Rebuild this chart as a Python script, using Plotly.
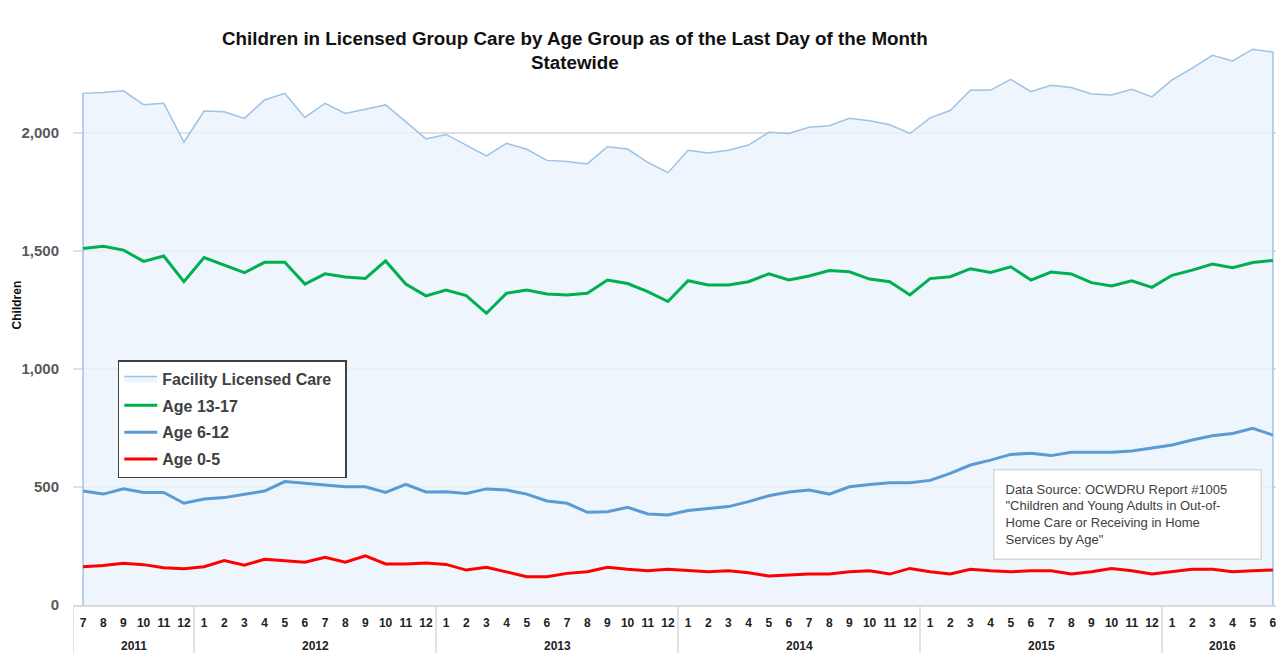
import plotly.graph_objects as go

years = ["2011"] * 6 + ["2012"] * 12 + ["2013"] * 12 + ["2014"] * 12 + ["2015"] * 12 + ["2016"] * 6
months = [str(m) for m in range(7, 13)] + [str(m) for m in range(1, 13)] * 4 + [str(m) for m in range(1, 7)]

facility = [2168, 2172, 2179, 2120, 2126, 1961,
            2093, 2090, 2062, 2140, 2168, 2066, 2126, 2083, 2100, 2119, 2048, 1975,
            1994, 1949, 1903, 1956, 1931, 1884, 1879, 1869, 1942, 1932, 1876, 1832,
            1927, 1915, 1927, 1949, 2003, 1998, 2024, 2031, 2062, 2052, 2035, 1998,
            2064, 2095, 2181, 2182, 2227, 2175, 2202, 2193, 2165, 2161, 2185, 2153,
            2225, 2275, 2329, 2305, 2355, 2343]

age_13_17 = [1511, 1520, 1504, 1456, 1479, 1370,
             1472, 1440, 1408, 1452, 1452, 1360, 1403, 1390, 1384, 1458, 1360, 1310,
             1335, 1311, 1236, 1321, 1335, 1318, 1314, 1321, 1377, 1362, 1328, 1286,
             1374, 1356, 1356, 1370, 1403, 1377, 1394, 1417, 1412, 1381, 1370, 1314,
             1383, 1391, 1425, 1409, 1433, 1377, 1411, 1403, 1366, 1352, 1374, 1346,
             1397, 1419, 1445, 1429, 1451, 1460]

age_6_12 = [483, 470, 492, 477, 477, 431,
            449, 455, 469, 483, 523, 516, 511, 501, 501, 477, 511, 479,
            480, 473, 492, 487, 470, 441, 431, 393, 395, 414, 386, 381,
            400, 407, 417, 438, 463, 479, 487, 470, 501, 511, 518, 518,
            528, 558, 593, 614, 638, 643, 633, 647, 647, 647, 653, 664,
            678, 699, 717, 727, 749, 720]

age_0_5 = [162, 167, 177, 171, 158, 154,
           162, 188, 169, 194, 188, 181, 202, 181, 208, 174, 174, 178,
           172, 148, 160, 139, 120, 120, 134, 141, 160, 151, 145, 151,
           145, 141, 145, 137, 123, 127, 131, 131, 141, 145, 131, 155,
           141, 131, 151, 145, 141, 145, 145, 131, 141, 155, 145, 131,
           141, 151, 151, 141, 145, 148]

y_ticks = [0, 500, 1000, 1500, 2000, 2500]
y_ticklabels = ["0", "500", "1,000", "1,500", "2,000", "2,500"]

title_text = ("<b>Children in Licensed Group Care by Age Group as of the Last Day of the Month</b><br>"
              "<b>Statewide</b>")
source_text = ("Data Source: OCWDRU Report #1005<br>"
               "\"Children and Young Adults in Out-of-<br>"
               "Home Care or Receiving in Home<br>"
               "Services by Age\"")

FONT = "Liberation Sans, Arial, sans-serif"

idx = list(range(len(months)))
# closed outline of the area series (down to zero at both ends)
poly_x = [idx[0]] + idx + [idx[-1]]
poly_y = [0] + facility + [0]

fig = go.Figure()
fig.add_trace(go.Scatter(
    x=poly_x, y=poly_y, name="<b>Facility Licensed Care</b>&nbsp;&nbsp;", mode="lines",
    fill="toself", fillcolor="rgba(234,242,251,0.8)", line=dict(color="#9DC3E6", width=1.5),
    legendgroup="a", hoverinfo="skip"))
fig.add_trace(go.Scatter(x=idx, y=age_13_17, name="<b>Age 13-17</b>", mode="lines",
                         line=dict(color="#00B050", width=3), legendgroup="b"))
fig.add_trace(go.Scatter(x=idx, y=age_6_12, name="<b>Age 6-12</b>", mode="lines",
                         line=dict(color="#5B9BD5", width=3), legendgroup="c"))
fig.add_trace(go.Scatter(x=idx, y=age_0_5, name="<b>Age 0-5</b>", mode="lines",
                         line=dict(color="#FF0000", width=3), legendgroup="d"))

annotations = [
    dict(text=title_text, xref="paper", yref="paper", x=0.415, y=0.94,
         xanchor="center", yanchor="middle", showarrow=False,
         font=dict(size=18.8, color="#111111")),
    dict(text=source_text, xref="paper", yref="paper", x=0.7605, y=0.2305,
         xanchor="left", yanchor="top", showarrow=False, align="left",
         bgcolor="white", bordercolor="#D9D9D9", borderwidth=1.5, borderpad=11,
         width=244, font=dict(size=13, color="#404040")),
    dict(text="<b>Children</b>", xref="paper", yref="paper", x=-0.0465, y=0.509,
         xanchor="center", yanchor="middle", textangle=-90, showarrow=False,
         font=dict(size=12, color="#111111")),
]
shapes = []
unique_years = []
for y in years:
    if y not in unique_years:
        unique_years.append(y)
for yr in unique_years:
    pos = [i for i, v in enumerate(years) if v == yr]
    annotations.append(dict(text="<b>" + yr + "</b>", xref="x", yref="paper",
                            x=(pos[0] + pos[-1]) / 2, y=-0.0695, yanchor="middle",
                            showarrow=False, font=dict(size=12, color="#222222")))
    shapes.append(dict(type="line", xref="x", yref="paper", x0=pos[0] - 0.5, x1=pos[0] - 0.5,
                       y0=0, y1=-0.085, line=dict(color="#D9D9D9", width=1.5)))
shapes.append(dict(type="line", xref="x", yref="paper", x0=idx[-1] + 0.5, x1=idx[-1] + 0.5,
                   y0=0, y1=-0.085, line=dict(color="#D9D9D9", width=1.5)))

# page body has an 8px margin, so the figure is offset by (8, 8) in the window
fig.update_layout(
    width=1276, height=645,
    margin=dict(l=65, r=1, t=7, b=48),
    paper_bgcolor="white", plot_bgcolor="white",
    font=dict(family=FONT, color="#404040"),
    showlegend=True,
    legend=dict(
        x=0.037, y=0.415, xanchor="left", yanchor="top",
        bgcolor="white", bordercolor="#404040", borderwidth=1.5,
        font=dict(size=16, color="#404040", family=FONT),
        tracegroupgap=3, traceorder="grouped", itemwidth=33,
    ),
    annotations=annotations,
    shapes=shapes,
)

fig.update_yaxes(
    range=[0, 2500], tickvals=y_ticks, ticktext=["<b>" + t + "</b>" for t in y_ticklabels],
    showgrid=True, gridcolor="#E0E0E0", gridwidth=1.5, zeroline=False,
    tickfont=dict(size=15, color="#595959", family=FONT),
    ticklabelstandoff=13, showline=False, automargin=False,
)
fig.update_xaxes(
    range=[-0.5, idx[-1] + 0.5], tickvals=idx, ticktext=["<b>" + m + "</b>" for m in months],
    tickangle=0, showgrid=False, zeroline=False, showline=True, linecolor="#D9D9D9", linewidth=1.5,
    tickfont=dict(size=12, color="#222222", family=FONT), automargin=False,
    ticklabelstandoff=6,
)

fig.write_html("out.html")
